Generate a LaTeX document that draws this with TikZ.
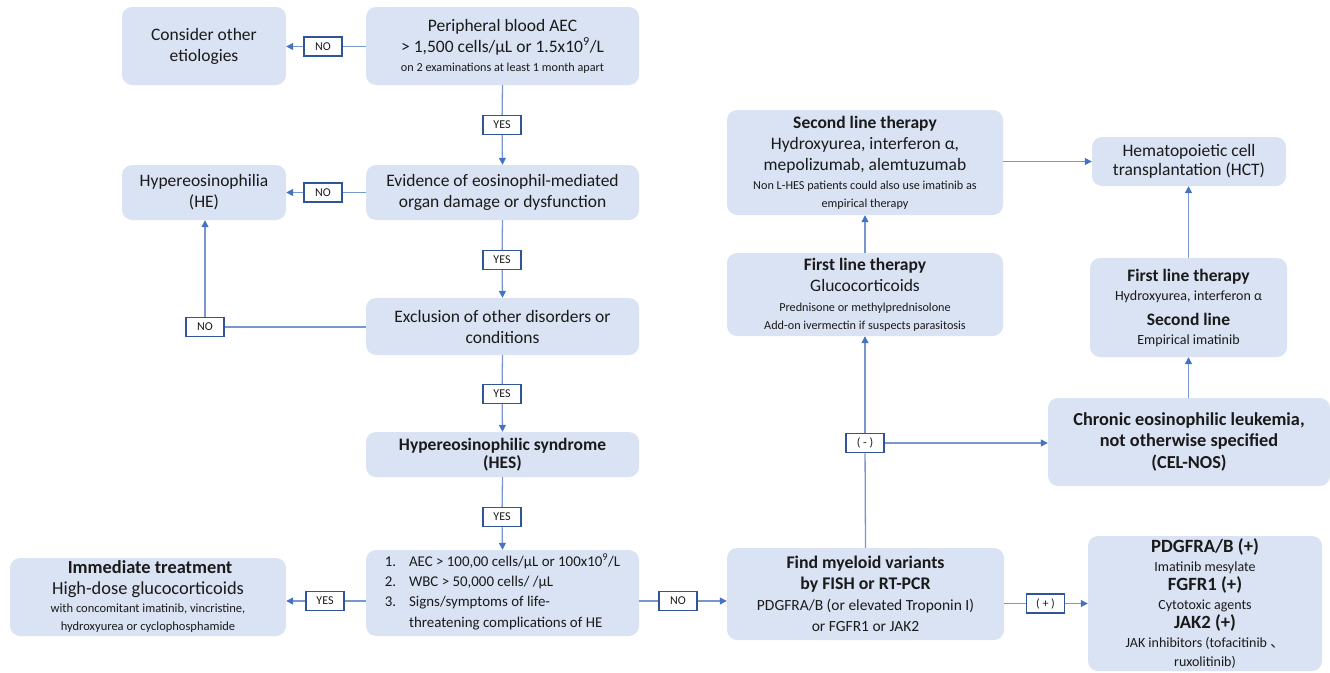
\documentclass[tikz,border=0pt]{standalone}
\usepackage{fontspec}
\setmainfont{Carlito}
\newfontfamily\cjkfont{Noto Sans CJK SC}
\usetikzlibrary{arrows.meta}
\definecolor{boxfill}{HTML}{DAE3F3}
\definecolor{lineblue}{HTML}{7A97CC}
\definecolor{arrowblue}{HTML}{4472C4}
\definecolor{lblborder}{HTML}{2F5597}
\definecolor{txt}{HTML}{1A1A1A}
\newcommand{\fs}[1]{\fontsize{#1}{\fpeval{#1*1.2}}\selectfont}
\begin{document}
\begin{tikzpicture}[x=1pt,y=-1pt,
  box/.style={rounded corners=10pt, fill=boxfill, draw=none, align=center, inner sep=0pt, text=txt, font=\fs{17.5}},
  lbl/.style={draw=lblborder, line width=1.5pt, fill=white, minimum width=38pt, minimum height=19pt, inner sep=0pt, font=\fs{12}, text=txt},
  conn/.style={draw=lineblue, line width=1.3pt},
  arr/.style={conn, -{Triangle[length=7pt,width=7pt,color=arrowblue]}},
]
\useasboundingbox (0,0) rectangle (1330,672);

% main boxes
\node[box, minimum width=164pt, minimum height=78pt] (cons) at (204,46) {Consider other\\etiologies};
\node[box, minimum width=273pt, minimum height=78pt] (pb) at (502.5,46) {Peripheral blood AEC\\> 1,500 cells/µL or 1.5x10\textsuperscript{9}/L\\[-2pt]{\fs{12.2}on 2 examinations at least 1 month apart}};
\node[box, minimum width=164pt, minimum height=55pt] (he) at (204,192.5) {Hypereosinophilia\\(HE)};
\node[box, minimum width=273pt, minimum height=55pt] (ev) at (502.5,192.5) {Evidence of eosinophil-mediated\\organ damage or dysfunction};
\node[box, minimum width=273pt, minimum height=57pt] (ex) at (502.5,326.5) {Exclusion of other disorders or\\conditions};
\node[box, minimum width=273pt, minimum height=45pt, font=\fs{17.5}\bfseries] (hes) at (502.5,454.5) {Hypereosinophilic syndrome\\[-3pt](HES)};
\node[box, minimum width=273pt, minimum height=86pt, align=left, font=\fs{14.9}] (crit) at (502.5,593) {%
\begin{tabular}{@{}l@{\hspace{13pt}}l@{}}
1. & AEC > 100,00 cells/µL or 100x10\textsuperscript{9}/L\\[2.5pt]
2. & WBC > 50,000 cells/ /µL\\[2.5pt]
3. & Signs/symptoms of life-\\[2.5pt]
   & threatening complications of HE
\end{tabular}};
\node[box, minimum width=276pt, minimum height=78pt] (imm) at (148,597) {{\bfseries\fs{18.4} Immediate treatment}\\{\fs{18.4}High-dose glucocorticoids}\\[-3pt]{\fs{12.5}with concomitant imatinib, vincristine,}\\[-3pt]{\fs{12.5}hydroxyurea or cyclophosphamide}};
\node[box, minimum width=277pt, minimum height=92pt] (find) at (865.5,594) {{\bfseries\fs{17.8}Find myeloid variants}\\{\bfseries\fs{17.8}by FISH or RT-PCR}\\{\fs{15.5}PDGFRA/B (or elevated Troponin I)}\\{\fs{15.5}or FGFR1 or JAK2}};
\node[box, minimum width=276pt, minimum height=83pt] (fl) at (865,294.5) {{\bfseries First line therapy}\\Glucocorticoids\\[-1pt]{\fs{12.2}Prednisone or methylprednisolone}\\[-3pt]{\fs{12.2}Add-on ivermectin if suspects parasitosis}};
\node[box, minimum width=276pt, minimum height=105pt] (sl) at (865,162.5) {{\bfseries Second line therapy}\\Hydroxyurea, interferon α,\\mepolizumab, alemtuzumab\\[-2pt]{\fs{12.2}Non L-HES patients could also use imatinib as}\\[-3pt]{\fs{12.2}empirical therapy}};
\node[box, minimum width=194pt, minimum height=49pt] (hct) at (1189,161.5) {Hematopoietic cell\\[-2pt]transplantation (HCT)};
\node[box, minimum width=197pt, minimum height=99pt] (flr) at (1188.5,307.5) {{\bfseries First line therapy}\\[-2pt]{\fs{14}Hydroxyurea, interferon α}\\[4pt]{\bfseries Second line}\\[-2pt]{\fs{14}Empirical imatinib}};
\node[box, minimum width=282pt, minimum height=88pt, font=\fs{18.3}\bfseries] (cel) at (1189,442) {Chronic eosinophilic leukemia,\\[-1pt]not otherwise specified\\[0pt](CEL-NOS)};
\node[box, minimum width=234pt, minimum height=135pt] (pdg) at (1205,603.5) {{\bfseries\fs{18.7}PDGFRA/B (+)}\\[-2pt]{\fs{14}Imatinib mesylate}\\[-2pt]{\bfseries\fs{18.7}FGFR1 (+)}\\[-2pt]{\fs{14}Cytotoxic agents}\\[-2pt]{\bfseries\fs{18.7}JAK2 (+)}\\[-2pt]{\fs{14}JAK inhibitors (tofacitinib {\cjkfont 、}}\\[-2pt]{\fs{14}ruxolitinib)}};

% label boxes
\node[lbl] (no1) at (323,46.5) {NO};
\node[lbl] (yes1) at (502,125) {YES};
\node[lbl] (no2) at (323,192.5) {NO};
\node[lbl] (yes2) at (502,260) {YES};
\node[lbl] (no3) at (205,327) {NO};
\node[lbl] (yes3) at (502,394) {YES};
\node[lbl] (yes4) at (502,517) {YES};
\node[lbl] (yes5) at (325,601) {YES};
\node[lbl] (no4) at (678,601) {NO};
\node[lbl] (minus) at (865,443) {( - )};
\node[lbl] (plus) at (1045.5,603.5) {( + )};

% connectors
\draw[conn] (pb.west |- no1) -- (no1);
\draw[arr] (no1) -- (cons.east |- no1);
\draw[conn] (pb.south) -- (yes1);
\draw[arr] (yes1) -- (ev.north);
\draw[conn] (ev.west |- no2) -- (no2);
\draw[arr] (no2) -- (he.east |- no2);
\draw[conn] (ev.south) -- (yes2);
\draw[arr] (yes2) -- (ex.north);
\draw[conn] (ex.west |- no3) -- (no3);
\draw[arr] (no3) -- (no3 |- he.south);
\draw[conn] (ex.south) -- (yes3);
\draw[arr] (yes3) -- (hes.north);
\draw[conn] (hes.south) -- (yes4);
\draw[arr] (yes4) -- (crit.north);
\draw[conn] (crit.west |- yes5) -- (yes5);
\draw[arr] (yes5) -- (imm.east |- yes5);
\draw[conn] (crit.east |- no4) -- (no4);
\draw[arr] (no4) -- (find.west |- no4);
\draw[conn] (find.north) -- (minus);
\draw[arr] (minus) -- (fl.south);
\draw[arr] (minus) -- (cel.west |- minus);
\draw[arr] (fl.north) -- (sl.south);
\draw[arr] (sl.east |- hct) -- (hct.west);
\draw[arr] (cel.north -| flr) -- (flr.south);
\draw[arr] (flr.north) -- (flr.north |- hct.south);
\draw[conn] (find.east |- plus) -- (plus);
\draw[arr] (plus) -- (pdg.west |- plus);
\end{tikzpicture}
\end{document}
